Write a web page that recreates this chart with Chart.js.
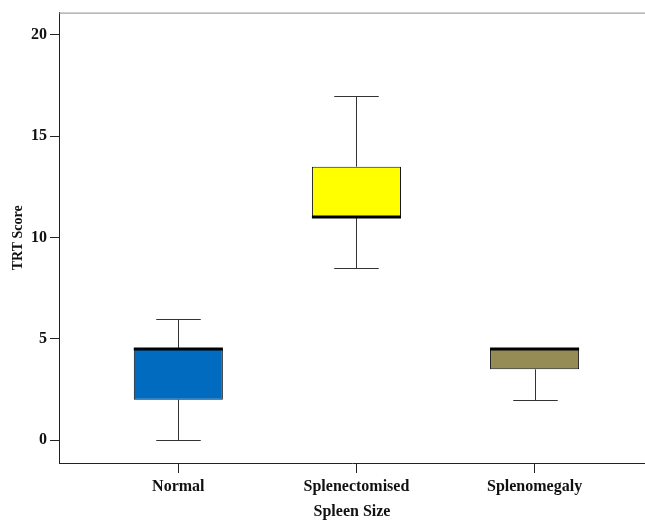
<!DOCTYPE html>
<html>
<head>
<meta charset="utf-8">
<script src="https://cdn.jsdelivr.net/npm/chart.js@4.4.1/dist/chart.umd.min.js"></script>
<style>
  html, body { margin: 0; padding: 0; background: #fff; }
  #wrap { width: 645px; height: 520px; }
</style>
</head>
<body>
<div id="wrap"><canvas id="boxChart"></canvas></div>
<script>
// box plot values
const categories = ["Normal", "Splenectomised", "Splenomegaly"];
const whiskerLow = [0, 8.5, 2];
const q1 = [2, 11, 3.5];
const median = [4.5, 11, 4.5];
const q3 = [4.5, 13.5, 4.5];
const whiskerHigh = [6, 17, 4.5];
const boxColors = ["#006bbf", "#ffff00", "#958c55"];
const yTicks = [0, 5, 10, 15, 20];

const positions = categories.map((c, i) => i + 1);

// whiskers, caps and median lines drawn through the chart scales
const boxPlotParts = {
    id: "boxPlotParts",
    beforeDatasetsDraw(chart) {
        const { ctx, scales: { x, y }, chartArea } = chart;
        ctx.save();
        // thin grey frame line on top
        ctx.strokeStyle = "#8a8a8a";
        ctx.lineWidth = 1;
        ctx.beginPath();
        ctx.moveTo(chartArea.left, chartArea.top + 0.5);
        ctx.lineTo(chartArea.right, chartArea.top + 0.5);
        ctx.stroke();

        ctx.strokeStyle = "#333";
        ctx.lineWidth = 1;
        positions.forEach((p, i) => {
            const cx = Math.round(x.getPixelForValue(p)) + 0.5;
            const capHalf = (x.getPixelForValue(p + 0.125) - x.getPixelForValue(p));
            const lo = Math.round(y.getPixelForValue(whiskerLow[i])) + 0.5;
            const hi = Math.round(y.getPixelForValue(whiskerHigh[i])) + 0.5;
            const bLo = y.getPixelForValue(q1[i]);
            const bHi = y.getPixelForValue(q3[i]);
            ctx.beginPath();
            if (whiskerLow[i] < q1[i]) {
                ctx.moveTo(cx, bLo);
                ctx.lineTo(cx, lo);
                ctx.moveTo(cx - capHalf, lo);
                ctx.lineTo(cx + capHalf, lo);
            }
            if (whiskerHigh[i] > q3[i]) {
                ctx.moveTo(cx, bHi);
                ctx.lineTo(cx, hi);
                ctx.moveTo(cx - capHalf, hi);
                ctx.lineTo(cx + capHalf, hi);
            }
            ctx.stroke();
        });
        ctx.restore();
    },
    afterDatasetsDraw(chart) {
        const { ctx, scales: { x, y } } = chart;
        ctx.save();
        ctx.strokeStyle = "#000";
        ctx.lineWidth = 3;
        positions.forEach((p, i) => {
            const half = x.getPixelForValue(p + 0.25) - x.getPixelForValue(p);
            const cx = x.getPixelForValue(p);
            const my = Math.round(y.getPixelForValue(median[i]));
            ctx.beginPath();
            ctx.moveTo(cx - half, my);
            ctx.lineTo(cx + half, my);
            ctx.stroke();
        });
        ctx.restore();
    }
};

const serif = "'Liberation Serif', 'Times New Roman', serif";

const ctx = document.getElementById("boxChart").getContext("2d");
new Chart(ctx, {
    type: "bar",
    data: {
        datasets: [
            {
                label: "TRT Score",
                data: positions.map((p, i) => ({ x: p, y: [q1[i], q3[i]] })),
                backgroundColor: boxColors,
                borderColor: "#111",
                borderWidth: 1,
                borderSkipped: false,
                barPercentage: 0.5,
                categoryPercentage: 1
            }
        ]
    },
    options: {
        responsive: true,
        maintainAspectRatio: false,
        animation: false,
        layout: { padding: { top: 7, right: 0, left: 0, bottom: 0 } },
        plugins: {
            legend: { display: false },
            tooltip: { enabled: false }
        },
        scales: {
            x: {
                type: "linear",
                offset: false,
                min: 0.33,
                max: 3.62,
                afterBuildTicks: axis => { axis.ticks = positions.map(v => ({ value: v })); },
                afterFit: axis => { axis.height = 57; },
                ticks: {
                    callback: v => categories[v - 1],
                    color: "#111",
                    padding: 4,
                    maxRotation: 0,
                    font: { family: serif, size: 16, weight: "bold" }
                },
                grid: { offset: false, drawOnChartArea: false, drawTicks: true, tickLength: 10, tickColor: "#222" },
                border: { display: true, color: "#222", width: 1 },
                title: {
                    display: true,
                    text: "Spleen Size",
                    color: "#111",
                    padding: 0,
                    font: { family: serif, size: 16, weight: "bold", lineHeight: 1 }
                }
            },
            y: {
                min: -1.12,
                max: 21.1,
                afterBuildTicks: axis => { axis.ticks = yTicks.map(v => ({ value: v })); },
                afterFit: axis => { axis.width = 59; },
                ticks: {
                    color: "#111",
                    padding: 3,
                    font: { family: serif, size: 16, weight: "bold" }
                },
                grid: { drawOnChartArea: false, drawTicks: true, tickLength: 9, tickColor: "#222" },
                border: { display: true, color: "#222", width: 1 },
                title: {
                    display: true,
                    text: "TRT Score",
                    color: "#111",
                    padding: { top: 10, bottom: 0 },
                    font: { family: serif, size: 14, weight: "bold", lineHeight: 1.2 }
                }
            }
        }
    },
    plugins: [boxPlotParts]
});
</script>
</body>
</html>
